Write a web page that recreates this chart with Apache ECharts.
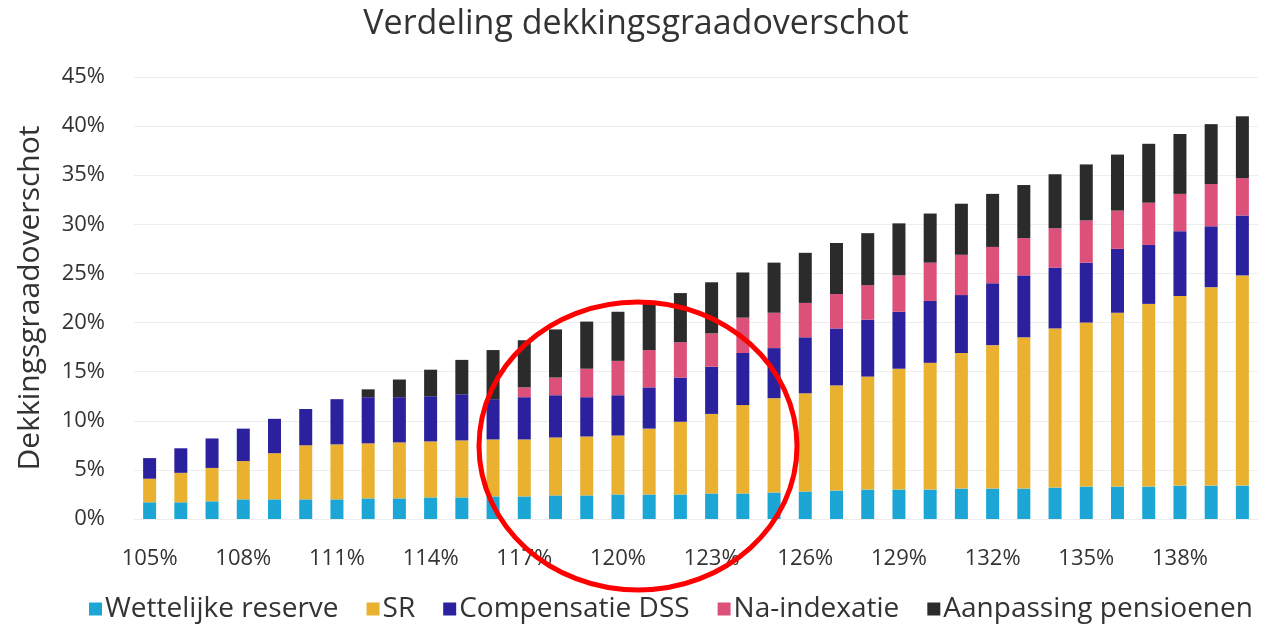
<!DOCTYPE html>
<html>
<head>
<meta charset="utf-8">
<script src="https://cdn.jsdelivr.net/npm/echarts@6/dist/echarts.min.js"></script>
<style>
html,body{margin:0;padding:0;background:#fff;}
#chart{width:1272px;height:638px;}
</style>
</head>
<body>
<div id="chart"></div>
<script>
var categories = ['105%','106%','107%','108%','109%','110%','111%','112%','113%','114%','115%','116%','117%','118%','119%','120%','121%','122%','123%','124%','125%','126%','127%','128%','129%','130%','131%','132%','133%','134%','135%','136%','137%','138%','139%','140%'];

var wettelijkeReserve = [1.7,1.7,1.8,2.0,2.0,2.0,2.0,2.1,2.1,2.2,2.2,2.3,2.3,2.4,2.4,2.5,2.5,2.5,2.6,2.6,2.7,2.8,2.9,3.0,3.0,3.0,3.1,3.1,3.1,3.2,3.3,3.3,3.3,3.4,3.4,3.4];
var sr = [2.4,3.0,3.4,3.9,4.7,5.5,5.6,5.6,5.7,5.7,5.8,5.8,5.8,5.9,6.0,6.0,6.7,7.4,8.1,9.0,9.6,10.0,10.7,11.5,12.3,12.9,13.8,14.6,15.4,16.2,16.7,17.7,18.6,19.3,20.2,21.4];
var compensatieDSS = [2.1,2.5,3.0,3.3,3.5,3.7,4.6,4.7,4.6,4.6,4.7,4.1,4.3,4.3,4.0,4.1,4.2,4.5,4.8,5.3,5.1,5.7,5.8,5.8,5.8,6.3,5.9,6.3,6.3,6.2,6.1,6.5,6.0,6.6,6.2,6.1];
var naIndexatie = [0,0,0,0,0,0,0,0,0,0,0,0,1.0,1.8,2.9,3.5,3.8,3.6,3.4,3.6,3.6,3.5,3.5,3.5,3.7,3.9,4.1,3.7,3.8,4.0,4.3,3.9,4.3,3.8,4.3,3.8];
var aanpassingPensioenen = [0,0,0,0,0,0,0,0.8,1.8,2.7,3.5,5.0,4.8,4.9,4.8,5.0,4.9,5.0,5.2,4.6,5.1,5.1,5.2,5.3,5.3,5.0,5.2,5.4,5.4,5.5,5.7,5.7,6.0,6.1,6.1,6.3];

var seriesNames = ['Wettelijke reserve','SR','Compensatie DSS','Na-indexatie','Aanpassing pensioenen'];
var seriesData = [wettelijkeReserve, sr, compensatieDSS, naIndexatie, aanpassingPensioenen];
var colors = ['#1ba6d6','#e9b12f','#2b219e','#dc5079','#2b2b2b'];

var FONT = '"Open Sans", sans-serif';
var chart = echarts.init(document.getElementById('chart'), null, {renderer:'canvas'});

var series = seriesNames.map(function(name, i){
  return {
    name: name,
    type: 'bar',
    stack: 'total',
    barWidth: 13,
    itemStyle: {color: colors[i]},
    data: seriesData[i]
  };
});

chart.setOption({
  animation: false,
  backgroundColor: '#ffffff',
  textStyle: {fontFamily: FONT},
  title: {
    text: 'Verdeling dekkingsgraadoverschot',
    left: 'center',
    top: 2,
    textStyle: {fontFamily: FONT, fontSize: 34, fontWeight: 'normal', color: '#333333'}
  },
  legend: {
    left: 84,
    top: 590,
    itemWidth: 13,
    itemHeight: 13,
    itemGap: 28,
    icon: 'rect',
    textStyle: {fontFamily: FONT, fontSize: 28, color: '#333333', padding: [0,0,0,-2]},
    data: seriesNames
  },
  grid: {left: 134, right: 14, top: 77, bottom: 119, containLabel: false},
  xAxis: {
    type: 'category',
    data: categories,
    axisLine: {show: false},
    axisTick: {show: false},
    axisLabel: {interval: 2, margin: 29, fontFamily: FONT, fontSize: 22, color: '#333333'}
  },
  yAxis: {
    type: 'value',
    min: 0,
    max: 45,
    interval: 5,
    name: 'Dekkingsgraadoverschot',
    nameLocation: 'middle',
    nameGap: 89,
    nameRotate: 90,
    nameTextStyle: {fontFamily: FONT, fontSize: 30, color: '#333333'},
    axisLabel: {formatter: '{value}%', margin: 29, fontFamily: FONT, fontSize: 22, color: '#333333'},
    axisLine: {show: false},
    axisTick: {show: false},
    splitLine: {lineStyle: {color: '#ededed', width: 1}}
  },
  series: series,
  graphic: [{
    type: 'ellipse',
    z: 100,
    shape: {cx: 638, cy: 446, rx: 159, ry: 144},
    style: {fill: 'none', stroke: '#ff0000', lineWidth: 5}
  }]
});
</script>
</body>
</html>
